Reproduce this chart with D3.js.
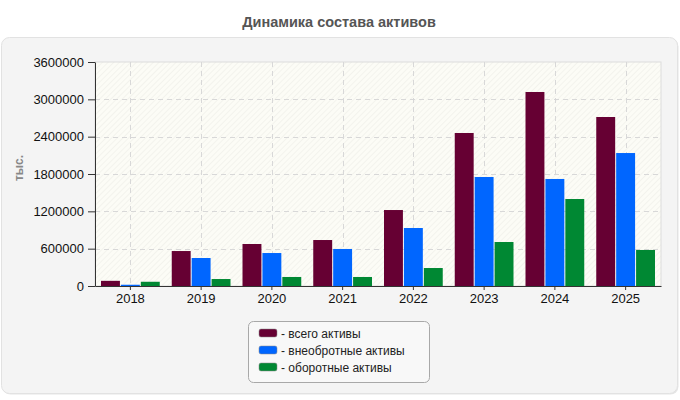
<!DOCTYPE html>
<html>
<head>
<meta charset="utf-8">
<script src="https://cdn.jsdelivr.net/npm/d3@7"></script>
<style>
  body { margin: 0; background: #fff; font-family: "Liberation Sans", Arial, sans-serif; }
</style>
</head>
<body>
<svg id="chart" width="680" height="400"></svg>
<script>
// данные графика
const years = ['2018', '2019', '2020', '2021', '2022', '2023', '2024', '2025'];
const seriesNames = ['всего активы', 'внеобротные активы', 'оборотные активы'];
const seriesColors = ['#660033', '#0066ff', '#008833'];
const totalAssets = [83000, 562000, 675000, 739000, 1221000, 2459000, 3118000, 2716000];
const fixedAssets = [20000, 450000, 530000, 595000, 932000, 1752000, 1720000, 2137000];
const currentAssets = [68000, 112000, 145000, 145000, 289000, 707000, 1398000, 579000];
const yTicks = [0, 600000, 1200000, 1800000, 2400000, 3000000, 3600000];

const seriesValues = [totalAssets, fixedAssets, currentAssets];

const svg = d3.select('#chart');
const plot = { left: 95, right: 661, top: 62, bottom: 286 };

// фон панели
svg.append('rect')
  .attr('x', 2.5).attr('y', 38.5)
  .attr('width', 676).attr('height', 356)
  .attr('rx', 8)
  .attr('fill', '#e6e6e6');
svg.append('rect')
  .attr('x', 1.5).attr('y', 37.5)
  .attr('width', 676).attr('height', 356)
  .attr('rx', 8)
  .attr('fill', '#f4f4f4')
  .attr('stroke', '#e2e2e2');

svg.append('text')
  .attr('x', 339).attr('y', 27)
  .attr('text-anchor', 'middle')
  .style('font-size', '14.5px')
  .style('font-weight', 'bold')
  .style('fill', '#555')
  .text('Динамика состава активов');

// штриховка фона области построения
const defs = svg.append('defs');
const pattern = defs.append('pattern')
  .attr('id', 'hatch')
  .attr('patternUnits', 'userSpaceOnUse')
  .attr('width', 4).attr('height', 4)
  .attr('patternTransform', 'rotate(45)');
pattern.append('rect').attr('width', 4).attr('height', 4).attr('fill', '#fcfcf6');
pattern.append('line')
  .attr('x1', 0).attr('y1', 0).attr('x2', 0).attr('y2', 4)
  .attr('stroke', '#f0f0ea').attr('stroke-width', 1.5);

svg.append('rect')
  .attr('x', plot.left).attr('y', plot.top)
  .attr('width', plot.right - plot.left).attr('height', plot.bottom - plot.top)
  .attr('fill', 'url(#hatch)')
  .attr('stroke', '#dcdcdc');

const x = d3.scaleBand()
  .domain(years)
  .range([plot.left, plot.right])
  .paddingInner(0)
  .paddingOuter(0);

const y = d3.scaleLinear()
  .domain([0, 3600000])
  .range([plot.bottom, plot.top]);

// сетка
svg.append('g')
  .selectAll('line.h')
  .data(yTicks.slice(1, -1))
  .join('line')
  .attr('x1', plot.left).attr('x2', plot.right)
  .attr('y1', d => Math.round(y(d)) + 0.5)
  .attr('y2', d => Math.round(y(d)) + 0.5)
  .attr('stroke', '#d8d8d8')
  .attr('stroke-dasharray', '5,4');

svg.append('g')
  .selectAll('line.v')
  .data(years)
  .join('line')
  .attr('x1', d => Math.round(x(d) + x.bandwidth() / 2) + 0.5)
  .attr('x2', d => Math.round(x(d) + x.bandwidth() / 2) + 0.5)
  .attr('y1', plot.top).attr('y2', plot.bottom)
  .attr('stroke', '#d8d8d8')
  .attr('stroke-dasharray', '5,4');

// столбцы
const x1 = d3.scaleBand()
  .domain(d3.range(seriesNames.length))
  .range([6, x.bandwidth() - 6])
  .paddingInner(0.05);

const groups = svg.append('g')
  .selectAll('g')
  .data(years)
  .join('g')
  .attr('transform', d => `translate(${x(d)},0)`);

groups.selectAll('rect')
  .data((d, i) => seriesValues.map((vals, s) => ({ s: s, v: vals[i] })))
  .join('rect')
  .attr('x', d => x1(d.s))
  .attr('width', x1.bandwidth())
  .attr('y', d => y(d.v))
  .attr('height', d => y(0) - y(d.v))
  .attr('fill', d => seriesColors[d.s]);

// оси
const yAxis = svg.append('g')
  .attr('transform', `translate(${plot.left},0)`)
  .call(d3.axisLeft(y).tickValues(yTicks).tickFormat(d3.format('d')).tickSize(7).tickSizeOuter(0));
yAxis.select('.domain').attr('stroke', '#333');
yAxis.selectAll('.tick line').attr('stroke', '#333');
yAxis.selectAll('text')
  .attr('x', -11)
  .style('font-size', '13px')
  .style('font-family', '"Liberation Sans", Arial, sans-serif')
  .style('fill', '#111');

const xAxis = svg.append('g')
  .attr('transform', `translate(0,${plot.bottom})`)
  .call(d3.axisBottom(x).tickSize(4).tickSizeOuter(0));
xAxis.select('.domain').attr('stroke', '#333');
xAxis.selectAll('.tick line').attr('stroke', '#333');
xAxis.selectAll('text')
  .attr('y', 8)
  .style('font-size', '13px')
  .style('font-family', '"Liberation Sans", Arial, sans-serif')
  .style('fill', '#111');

svg.append('text')
  .attr('transform', 'translate(23,168) rotate(-90)')
  .attr('text-anchor', 'middle')
  .style('font-size', '12px')
  .style('font-weight', 'bold')
  .style('fill', '#888')
  .text('тыс.');

// легенда
const legend = svg.append('g').attr('transform', 'translate(248.5,321.5)');
legend.append('rect')
  .attr('width', 181).attr('height', 61)
  .attr('rx', 5)
  .attr('fill', '#f8f8f8')
  .attr('stroke', '#a8a8a8');

const items = legend.selectAll('g')
  .data(seriesNames)
  .join('g')
  .attr('transform', (d, i) => `translate(10.5,${7.5 + i * 17})`);
items.append('rect')
  .attr('width', 18).attr('height', 8)
  .attr('rx', 2)
  .attr('fill', (d, i) => seriesColors[i])
  .attr('stroke', '#888')
  .attr('stroke-width', 0.5);
items.append('text')
  .attr('x', 22).attr('y', 8.5)
  .style('font-size', '12px')
  .style('fill', '#222')
  .text(d => '- ' + d);
</script>
</body>
</html>
